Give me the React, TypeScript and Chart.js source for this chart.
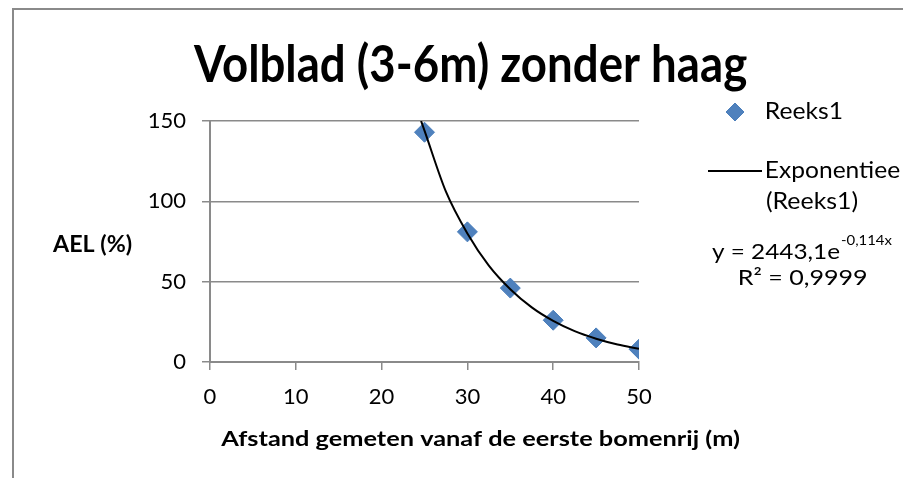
import React, { useEffect, useRef } from 'react';
import { Chart, registerables } from 'chart.js';

Chart.register(...registerables);

// ---- Data ----
const distances = [25, 30, 35, 40, 45, 50];
const aelValues = [143, 81, 46, 26, 15, 8];

// Exponential trendline, values
const trendDistances = [24.6, 25, 27.5, 30, 32.5, 35, 37.5, 40, 42.5, 45, 47.5, 50];
const trendValues = [150, 144, 106, 80, 60, 45.3, 34, 25.6, 19.2, 14.5, 10.9, 8.2];

const xTickValues = [0, 10, 20, 30, 40, 50];
const yTickValues = [0, 50, 100, 150];

const TITLE = 'Volblad (3-6m) zonder haag';
const X_TITLE = 'Afstand gemeten vanaf de eerste bomenrij (m)';
const Y_TITLE = 'AEL (%)';
const SERIES_LABEL = 'Reeks1';
const TREND_LABEL_1 = 'Exponentieel';
const TREND_LABEL_2 = '(Reeks1)';
const EQ_MAIN = 'y = 2443,1e';
const EQ_SUP = '-0,114x';
const R2_TEXT = 'R² = 0,9999';

const FONT = 'Lato, "Open Sans", sans-serif';
const GRAY = '#8a8a8a';
const BLUE = '#4F81BD';
const BLUE_EDGE = '#4A7EBB';
const CAP = 0.717;

function fitText(
  ctx: CanvasRenderingContext2D,
  text: string,
  left: number,
  right: number,
  baseline: number,
  capH: number,
  weight: string,
  measureText?: string
) {
  const size = capH / CAP;
  ctx.font = `${weight} ${size}px ${FONT}`;
  ctx.textAlign = 'left';
  ctx.textBaseline = 'alphabetic';
  const m = ctx.measureText(measureText ?? text);
  const glyphW = m.actualBoundingBoxLeft + m.actualBoundingBoxRight;
  const sx = (right - left) / glyphW;
  ctx.save();
  ctx.translate(left, baseline);
  ctx.scale(sx, 1);
  ctx.fillStyle = '#000';
  ctx.fillText(text, m.actualBoundingBoxLeft, 0);
  ctx.restore();
}

const decorPlugin = {
  id: 'decor',
  afterDraw(chart: any) {
    const ctx: CanvasRenderingContext2D = chart.ctx;
    ctx.save();
    // chart area border (top + left visible)
    ctx.strokeStyle = GRAY;
    ctx.lineWidth = 2;
    ctx.beginPath();
    ctx.moveTo(13, 478);
    ctx.lineTo(13, 9);
    ctx.lineTo(903, 9);
    ctx.stroke();

    // title
    fitText(ctx, TITLE, 193, 747, 82, 37, 'bold');
    // axis titles
    fitText(ctx, Y_TITLE, 52, 132, 252, 16, 'bold');
    fitText(ctx, X_TITLE, 220, 739, 446, 15, 'bold');

    // legend: series marker
    const lx = 735, ly = 112, r = 9;
    ctx.beginPath();
    ctx.moveTo(lx, ly - r);
    ctx.lineTo(lx + r, ly);
    ctx.lineTo(lx, ly + r);
    ctx.lineTo(lx - r, ly);
    ctx.closePath();
    ctx.fillStyle = BLUE;
    ctx.fill();
    ctx.strokeStyle = BLUE_EDGE;
    ctx.lineWidth = 1;
    ctx.stroke();
    fitText(ctx, SERIES_LABEL, 767, 842, 119, 16, 'normal');

    // legend: trendline
    ctx.strokeStyle = '#000';
    ctx.lineWidth = 2;
    ctx.beginPath();
    ctx.moveTo(708, 171);
    ctx.lineTo(762, 171);
    ctx.stroke();
    // the legend text runs past the chart's right edge (cut off there)
    ctx.save();
    ctx.beginPath();
    ctx.rect(700, 140, 201, 50);
    ctx.clip();
    fitText(ctx, TREND_LABEL_1, 767, 900, 178, 16.5, 'normal', TREND_LABEL_1.slice(0, -1));
    ctx.restore();
    fitText(ctx, TREND_LABEL_2, 767, 858, 208.5, 16.5, 'normal');

    // equation
    fitText(ctx, EQ_MAIN, 712, 840, 258.5, 15, 'normal');
    fitText(ctx, EQ_SUP, 841, 892, 245, 10, 'normal');
    fitText(ctx, R2_TEXT, 739, 867, 285, 15.5, 'normal');
    ctx.restore();
  },
};

export default function App() {
  const canvasRef = useRef<HTMLCanvasElement | null>(null);

  useEffect(() => {
    const canvas = canvasRef.current;
    if (!canvas) return;
    const chart = new Chart(canvas, {
      type: 'scatter',
      data: {
        datasets: [
          {
            label: 'Exponentieel (Reeks1)',
            data: trendDistances.map((x, i) => ({ x, y: trendValues[i] })),
            showLine: true,
            borderColor: '#000',
            borderWidth: 2,
            pointRadius: 0,
            pointHoverRadius: 0,
            cubicInterpolationMode: 'monotone',
            fill: false,
            order: 0,
          } as any,
          {
            label: SERIES_LABEL,
            data: distances.map((x, i) => ({ x, y: aelValues[i] })),
            showLine: false,
            pointStyle: 'rectRot',
            pointRadius: 10,
            pointHoverRadius: 10,
            backgroundColor: BLUE,
            borderColor: BLUE_EDGE,
            borderWidth: 1,
            order: 1,
          } as any,
        ],
      },
      options: {
        responsive: false,
        animation: false,
        devicePixelRatio: 1,
        events: [],
        layout: { padding: { left: 0, top: 121, right: 264, bottom: 0 } },
        plugins: {
          legend: { display: false },
          title: { display: false },
          tooltip: { enabled: false },
        },
        scales: {
          x: {
            type: 'linear',
            min: 0,
            max: 50,
            afterBuildTicks: (s: any) => {
              s.ticks = xTickValues.map((v) => ({ value: v }));
            },
            afterFit: (s: any) => {
              s.height = 116;
            },
            ticks: {
              color: '#000',
              font: { family: FONT, size: 22 },
              padding: 14,
              maxRotation: 0,
              autoSkip: false,
            },
            grid: {
              drawOnChartArea: false,
              drawTicks: true,
              tickLength: 8,
              color: GRAY,
              lineWidth: 1.5,
            },
            border: { display: true, color: GRAY, width: 2 },
          },
          y: {
            type: 'linear',
            min: 0,
            max: 150,
            afterBuildTicks: (s: any) => {
              s.ticks = yTickValues.map((v) => ({ value: v }));
            },
            afterFit: (s: any) => {
              s.width = 210;
            },
            ticks: {
              color: '#000',
              font: { family: FONT, size: 22 },
              padding: 16,
            },
            grid: {
              drawTicks: true,
              tickLength: 8,
              color: GRAY,
              lineWidth: 1.5,
            },
            border: { display: true, color: GRAY, width: 2 },
          },
        },
      } as any,
      plugins: [decorPlugin],
    });
    return () => chart.destroy();
  }, []);

  return (
    <div
      style={{
        position: 'absolute',
        left: 0,
        top: 0,
        width: 903,
        height: 478,
        background: '#fff',
        overflow: 'hidden',
      }}
    >
      <canvas ref={canvasRef} width={903} height={478} style={{ display: 'block' }} />
    </div>
  );
}
